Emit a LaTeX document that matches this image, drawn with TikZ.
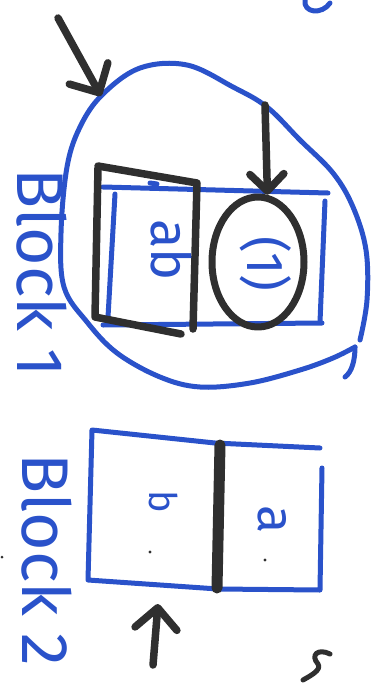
\documentclass[tikz,border=0pt]{standalone}
\usepackage{fontspec}
\setmainfont{Fira Sans}
\usetikzlibrary{arrows.meta,shapes.geometric}
\definecolor{pen}{HTML}{2A52CA}
\definecolor{ink}{HTML}{2F2F2F}
\begin{document}
\begin{tikzpicture}[x=1pt,y=-1pt,line cap=round,line join=round,
  bluepen/.style={draw=pen,line width=5pt},
  blackpen/.style={draw=ink,line width=7.5pt},
  hand/.style={text=pen,rotate=-90,inner sep=0pt},
  arr/.style={draw=ink,line width=7.5pt,-{Straight Barb[round,length=#1,width=2*#1]}},
  arr/.default=20pt]
\useasboundingbox (0,0) rectangle (383,686);
% ---------- Block 1 ----------
% outer blob
\draw[bluepen] plot[smooth,tension=0.6] coordinates {
  (360,340) (367,300) (366,250) (353,207) (333,173) (300,140) (267,107)
  (233,87) (187,65) (140,68) (102,95) (80,127) (67,167) (61,233) (64,287)
  (87,322) (117,353) (160,377) (200,387) (250,383) (300,370) (333,358) (355,347)};
\draw[bluepen] (355,347) .. controls (355,360) and (352,372) .. (345,377);
% inner blue box
\draw[bluepen] (103,187) -- (328,193);
\draw[bluepen] (150,183) -- (157,184);
\draw[bluepen] (115,194) -- (108,317);
\draw[bluepen] (103,325) -- (322,323);
\draw[bluepen] (325,201) -- (320,322);
% black book around ab
\draw[blackpen] (98,168) -- (95,317) -- (181,334);
\draw[blackpen] (98,166) -- (197,183) -- (193,329);
% ellipse with its text
\node[draw=ink,line width=7pt,ellipse,minimum width=92pt,minimum height=130pt,inner sep=0pt] (ell) at (258,262) {};
\node[hand,font=\fontsize{52}{52}\selectfont] (one) at (266,264) {(1)};
% texts
\node[hand,font=\fontsize{54}{54}\selectfont] (ab) at (171,250) {ab};
\node[hand,font=\fontsize{66}{66}\selectfont] (b1) at (42,273) {Block 1};
% arrows
\coordinate (a1s) at (58,18);
\coordinate (a1t) at (101,96);
\draw[arr=22pt] (a1s) -- (a1t);
\coordinate (a2s) at (265,105);
\draw[arr=17pt] (a2s) -- (ell.82);
% ---------- Block 2 ----------
\draw[bluepen] (320,448) -- (215,443) -- (92,430) -- (88,580) -- (218,589) -- (320,590) -- (322,468);
\draw[draw=ink,line width=11pt] (220,445) -- (217,588);
\node[hand,font=\fontsize{38}{38}\selectfont] (lb) at (164,502) {b};
\node[hand,font=\fontsize{52}{52}\selectfont] (la) at (272,520) {a};
\fill[ink] (150,552) circle (1.6pt);
\fill[ink] (265,560) circle (1.6pt);
\node[hand,font=\fontsize{66}{66}\selectfont] (b2) at (47,560) {Block 2};
\coordinate (a3s) at (153,665);
\coordinate (a3t) at (158,604);
\draw[arr=21pt] (a3s) -- (a3t);
% ---------- stray marks ----------
\draw[pen,line width=5pt] (305,0) .. controls (303,13) and (322,15) .. (330,3);
\draw[ink,line width=5pt] (330,654) .. controls (318,648) and (310,655) .. (318,664) .. controls (322,670) and (310,676) .. (303,680);
\fill[ink] (2,557) circle (1.5pt);
\end{tikzpicture}
\end{document}
